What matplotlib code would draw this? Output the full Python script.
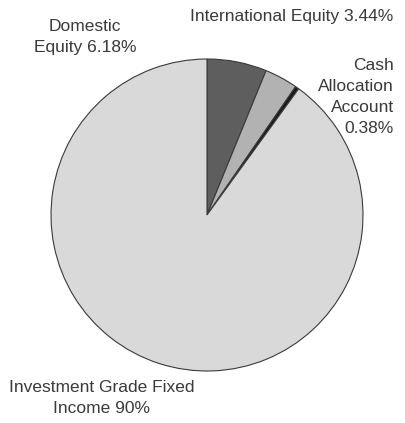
import matplotlib.pyplot as plt

# Asset allocation data
labels = ["Domestic\nEquity 6.18%", "International Equity 3.44%",
          "Cash\nAllocation\nAccount\n0.38%", "Investment Grade Fixed\nIncome 90%"]
shares = [6.18, 3.44, 0.38, 90.0]
colors = ["#5e5e5e", "#b2b2b2", "#1a1a1a", "#d9d9d9"]

plt.rcParams['font.family'] = ['Liberation Sans', 'DejaVu Sans']

fig = plt.figure(figsize=(4.06, 4.23), dpi=100)
ax = fig.add_axes([0, 0, 1, 1])

# pie drawn in pixel-like coordinates (y up)
ax.pie(shares, colors=colors, startangle=90, counterclock=False,
       center=(207, 208), radius=156, frame=True,
       wedgeprops=dict(edgecolor="#3a3a3a", linewidth=0.8))
ax.set_xlim(0, 406)
ax.set_ylim(0, 423)
ax.set_aspect('equal')
ax.axis('off')

tc = "#3a3a3a"
fs = 12.5
ax.text(85, 423 - 37, labels[0], ha='center', va='center', fontsize=fs,
        color=tc, linespacing=1.5)
ax.text(292, 423 - 16, labels[1], ha='center', va='center', fontsize=fs,
        color=tc)
ax.text(394, 423 - 97, labels[2], ha='right', va='center', fontsize=fs,
        color=tc, linespacing=1.5, multialignment='right')
ax.text(102, 423 - 398, labels[3], ha='center', va='center', fontsize=fs,
        color=tc, linespacing=1.5)

fig.savefig("out.png", dpi=100)
